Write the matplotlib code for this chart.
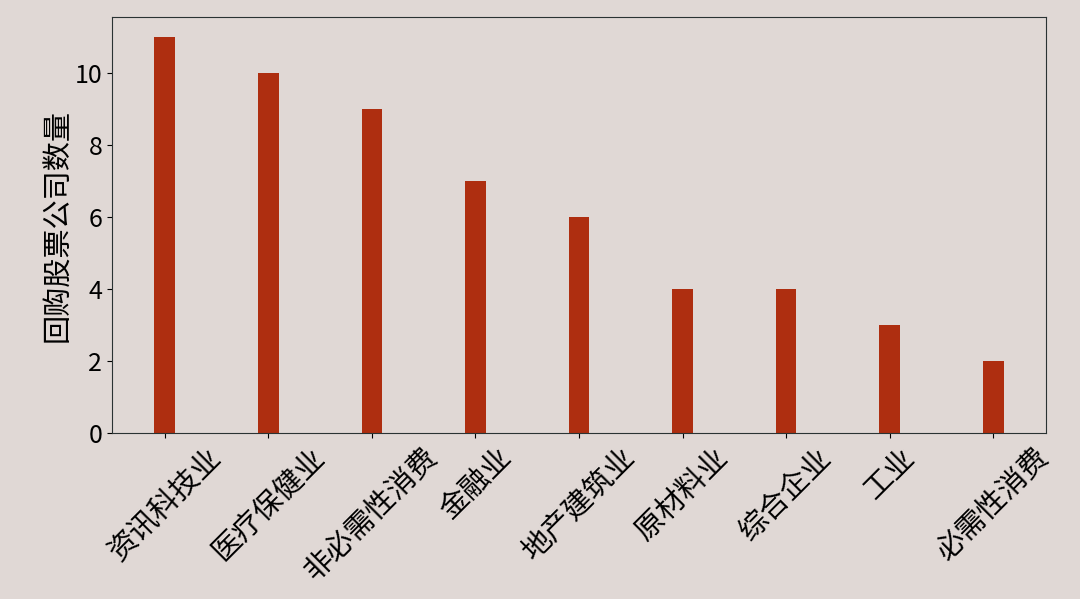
import matplotlib
matplotlib.use('Agg')
import matplotlib.pyplot as plt

plt.rcParams['font.family'] = ['Noto Sans CJK SC', 'DejaVu Sans']

industries = ['资讯科技业', '医疗保健业', '非必需性消费', '金融业', '地产建筑业',
              '原材料业', '综合企业', '工业', '必需性消费']
counts = [11, 10, 9, 7, 6, 4, 4, 3, 2]

bg = '#e0d8d5'
bar_color = '#ae2e10'

fig = plt.figure(figsize=(10.8, 5.99), dpi=100, facecolor=bg)
ax = fig.add_axes([112 / 1080, 1 - 433 / 599, (1046 - 112) / 1080, (433 - 17) / 599])
ax.set_facecolor(bg)

x = range(len(industries))
ax.bar(x, counts, width=0.2, color=bar_color)

ax.set_xticks(list(x))
ax.set_xticklabels(industries, rotation=45, fontsize=21)
ax.tick_params(axis='y', labelsize=18)
ax.set_ylabel('回购股票公司数量', fontsize=21, labelpad=1)

for s in ax.spines.values():
    s.set_color('#2a3333')

fig.savefig('out.png', dpi=100, facecolor=bg)
